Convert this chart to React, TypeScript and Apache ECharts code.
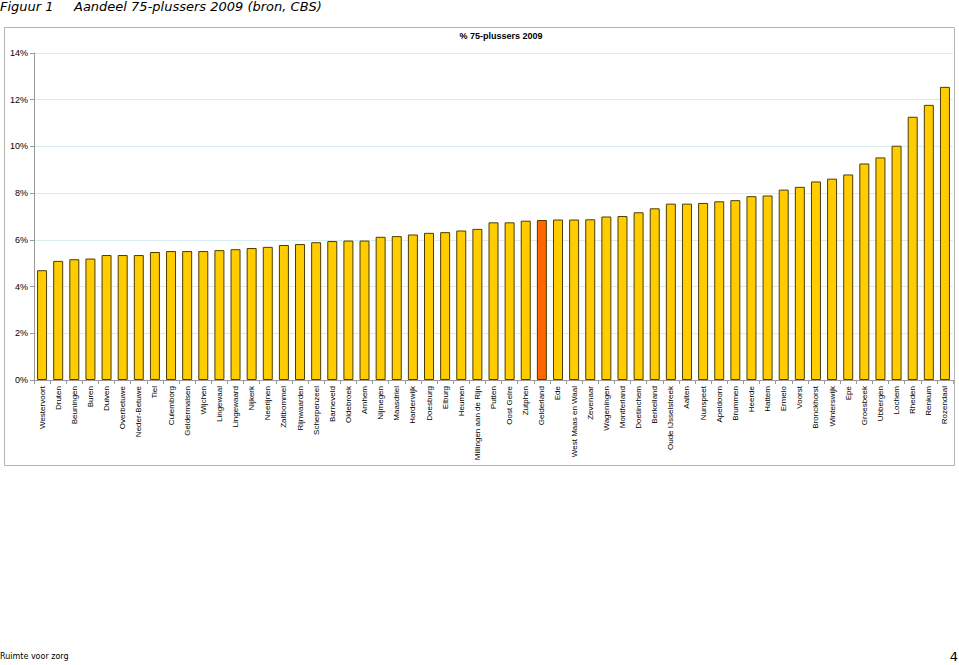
import React, { useEffect, useRef } from "react";
import * as echarts from "echarts";

const categories = [
  "Westervoort", "Druten", "Beuningen", "Buren", "Duiven", "Overbetuwe", "Neder-Betuwe", "Tiel",
  "Culemborg", "Geldermalsen", "Wijchen", "Lingewaal", "Lingewaard", "Nijkerk", "Neerijnen",
  "Zaltbommel", "Rijnwaarden", "Scherpenzeel", "Barneveld", "Oldebroek", "Arnhem", "Nijmegen",
  "Maasdriel", "Harderwijk", "Doesburg", "Elburg", "Heumen", "Millingen aan de Rijn", "Putten",
  "Oost Gelre", "Zutphen", "Gelderland", "Ede", "West Maas en Waal", "Zevenaar", "Wageningen",
  "Montferland", "Doetinchem", "Berkelland", "Oude IJsselstreek", "Aalten", "Nunspeet",
  "Apeldoorn", "Brummen", "Heerde", "Hattem", "Ermelo", "Voorst", "Bronckhorst", "Winterswijk",
  "Epe", "Groesbeek", "Ubbergen", "Lochem", "Rheden", "Renkum", "Rozendaal",
];

const values = [
  4.7, 5.1, 5.17, 5.2, 5.35, 5.35, 5.35, 5.48, 5.52, 5.52, 5.52, 5.56, 5.6, 5.65, 5.7,
  5.78, 5.82, 5.9, 5.95, 5.97, 5.97, 6.13, 6.16, 6.23, 6.3, 6.33, 6.4, 6.47, 6.75,
  6.75, 6.82, 6.85, 6.87, 6.87, 6.88, 7.0, 7.02, 7.18, 7.35, 7.55, 7.55, 7.58,
  7.65, 7.7, 7.87, 7.9, 8.15, 8.27, 8.5, 8.62, 8.8, 9.27, 9.53, 10.03, 11.27, 11.78, 12.55,
];

const highlight = "Gelderland";
const yTicks = [0, 2, 4, 6, 8, 10, 12, 14];

export default function App() {
  const ref = useRef<HTMLDivElement>(null);
  useEffect(() => {
    if (!ref.current) return;
    const chart = echarts.init(ref.current, null, { renderer: "svg" });
    chart.setOption({
      animation: false,
      backgroundColor: "#ffffff",
      grid: { left: 34, top: 53, right: 6, bottom: 285, containLabel: false },
      graphic: [
        {
          type: "rect",
          shape: { x: 4.5, y: 27.5, width: 950, height: 438 },
          style: { fill: "none", stroke: "#b4b4b4", lineWidth: 1 },
          silent: true,
        },
        {
          type: "text",
          x: 0,
          y: 0,
          style: {
            text: "Figuur 1",
            font: "italic 13px 'DejaVu Sans', Verdana, sans-serif",
            fill: "#000",
          },
        },
        {
          type: "text",
          x: 74,
          y: 0,
          style: {
            text: "Aandeel 75-plussers 2009 (bron, CBS)",
            font: "italic 13px 'DejaVu Sans', Verdana, sans-serif",
            fill: "#000",
          },
        },
        {
          type: "text",
          x: 501,
          y: 31,
          style: {
            text: "% 75-plussers 2009",
            font: "bold 9px 'Liberation Sans', Arial, sans-serif",
            fill: "#000",
            textAlign: "center",
          },
        },
        {
          type: "text",
          x: 0,
          y: 652,
          style: {
            text: "Ruimte voor zorg",
            font: "8px 'DejaVu Sans', Verdana, sans-serif",
            fill: "#000",
          },
        },
        {
          type: "text",
          x: 958,
          y: 650,
          style: {
            text: "4",
            font: "13px 'DejaVu Sans', Verdana, sans-serif",
            fill: "#000",
            textAlign: "right",
          },
        },
      ],
      xAxis: {
        type: "category",
        data: categories,
        axisLine: { show: true, lineStyle: { color: "#9a9a9a", width: 1 } },
        axisTick: { show: true, length: 4, lineStyle: { color: "#9a9a9a" } },
        axisLabel: {
          interval: 0,
          rotate: 90,
          fontSize: 8,
          fontFamily: "'Liberation Sans Narrow', 'Liberation Sans', Arial, sans-serif",
          color: "#000",
          margin: 6,
        },
      },
      yAxis: {
        type: "value",
        min: 0,
        max: 14,
        interval: 2,
        axisLine: { show: true, lineStyle: { color: "#9a9a9a", width: 1 } },
        axisTick: { show: true, length: 4, lineStyle: { color: "#9a9a9a" } },
        axisLabel: {
          formatter: (v: number) => (yTicks.includes(v) ? v + "%" : ""),
          fontSize: 9,
          fontFamily: "'Liberation Sans', Arial, sans-serif",
          color: "#000",
          margin: 6,
        },
        splitLine: { show: true, lineStyle: { color: "#d6ecf0", width: 1 } },
      },
      series: [
        {
          type: "bar",
          data: values.map((v, i) => ({
            value: v,
            itemStyle: {
              color: categories[i] === highlight ? "#ff6600" : "#ffcc00",
              borderColor: "#4d3d00",
              borderWidth: 1,
            },
          })),
          barCategoryGap: "38%",
        },
      ],
    });
    return () => chart.dispose();
  }, []);
  return (
    <div
      ref={ref}
      style={{ position: "absolute", left: 0, top: 0, width: 959, height: 665 }}
    />
  );
}
